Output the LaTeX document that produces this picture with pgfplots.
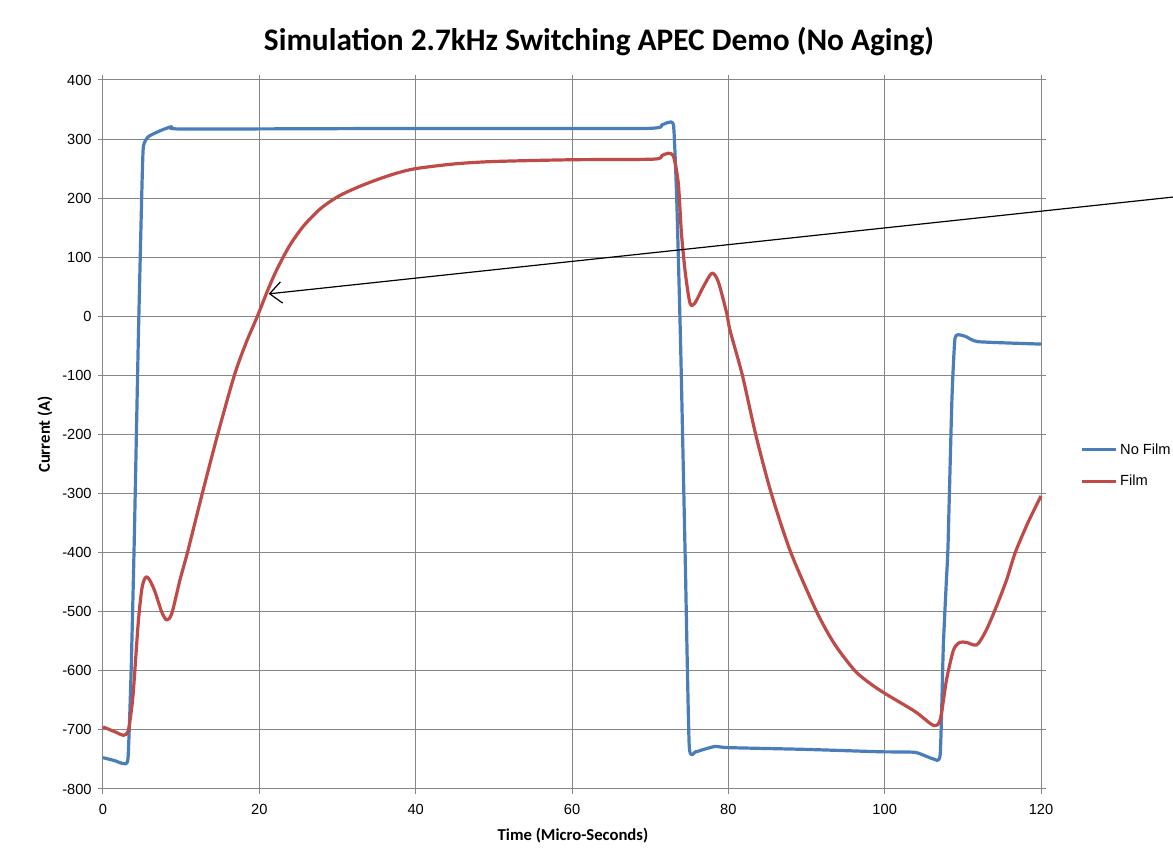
\documentclass[border=0pt]{standalone}
\usepackage{fontspec}
\setmainfont{Liberation Sans}
\newfontfamily\calibri{Carlito}
\usepackage{pgfplots}
\pgfplotsset{compat=1.18}
\usetikzlibrary{arrows.meta}
\definecolor{nofilm}{RGB}{74,126,187}
\definecolor{film}{RGB}{190,75,72}
\definecolor{gridc}{RGB}{134,134,134}
\begin{document}
\begin{tikzpicture}
\useasboundingbox (-77.25pt,-54.75pt) rectangle (802.5pt,591.75pt);
\begin{axis}[
  at={(0pt,0pt)}, anchor=south west,
  scale only axis, width=703.5pt, height=531.75pt,
  xmin=0, xmax=120, ymin=-800, ymax=400,
  xtick={0,20,...,120}, ytick={-800,-700,...,400},
  grid=major, major grid style={gridc, line width=0.75pt},
  axis line style={gridc, line width=0.75pt},
  tick align=outside, major tick length=4pt,
  tick style={gridc, line width=0.75pt},
  /pgf/number format/assume math mode=true,
  ticklabel style={font=\fontsize{11}{13}\selectfont, text=black},
  yticklabel style={xshift=-1pt},
  xticklabel style={yshift=-4pt},
  clip=false,
  legend style={at={(1.0416,0.4560)}, anchor=west, draw=none, fill=none,
    font=\fontsize{11}{13}\selectfont, row sep=10.5pt, inner sep=0pt},
  legend cell align=left,
  legend image code/.code={\draw[#1] (0pt,0pt) -- (25.5pt,0pt);},
]
\addplot[nofilm, line width=2.4pt, line join=round, smooth, tension=0.3] coordinates {
(0,-747) (1.5,-752) (2.6,-757) (3.2,-748) (3.6,-600) (4.0,-379) (4.5,-51)
(4.95,202) (5.16,287) (5.8,304) (7.3,314) (8.8,321) (10.1,317) (40,318) (69.5,318)
(71.5,324) (72.3,328) (73,322) (73.4,197) (73.9,-51) (74.5,-420) (75,-728)
(75.8,-737) (76.6,-734) (78.3,-728) (80,-730) (90,-733) (99.4,-737) (103.9,-738)
(106.2,-749) (107.1,-742) (107.5,-559) (107.9,-446) (108.1,-390) (108.6,-142)
(109,-37) (109.8,-32) (110.5,-35) (112,-43) (120,-47)
};
\addlegendentry{No Film}
\addplot[film, line width=2.4pt, line join=round, smooth, tension=0.45] coordinates {
(0,-695) (1.5,-703) (2.6,-709) (3.2,-703) (3.6,-670) (3.9,-632) (4.5,-520)
(4.95,-463) (5.3,-445) (5.6,-441) (6.0,-447) (6.65,-466) (7.5,-500) (8.15,-514)
(8.8,-503) (9.85,-446) (10.8,-400) (12.7,-300) (14.67,-200) (16.8,-100) (18.3,-45)
(19.75,0) (21.1,45) (22.2,78) (23.8,118) (25.6,152) (27.8,182) (30.1,203) (32.5,218)
(35,231) (37.5,242) (40,250) (45,258) (50,262) (60,265) (70.4,266) (71.5,272)
(72.3,276) (73,270) (73.6,225) (74,141) (74.5,73) (75.1,22) (75.7,22) (76.8,50)
(77.9,73) (78.7,59) (79.8,5) (80.2,-23) (81.8,-100) (83.5,-200) (85.5,-300)
(88.0,-400) (91.3,-500) (93.6,-555) (96.2,-600) (98.2,-622) (100,-638) (103.9,-669) (106.2,-692)
(107.1,-683) (107.9,-616) (108.8,-565) (109.6,-552) (110.5,-552) (111.8,-556)
(113.0,-531) (114.3,-491) (115.6,-446) (116.7,-400) (118.3,-350) (120,-304)
};
\addlegendentry{Film}
\draw[black, line width=0.9pt, -{Straight Barb[length=9pt, width=16pt]}]
  (axis cs:137,202) -- (axis cs:21.2,38);
\end{axis}
\node[font=\calibri\bfseries\fontsize{23.5}{28}\selectfont] at (372pt,560.25pt)
  {Simulation 2.7kHz Switching APEC Demo (No Aging)};
\node[font=\calibri\bfseries\fontsize{12.5}{15}\selectfont] at (352.5pt,-35.25pt)
  {Time (Micro-Seconds)};
\node[font=\calibri\bfseries\fontsize{12.5}{15}\selectfont, rotate=90] at (-43.5pt,265.9pt)
  {Current (A)};
\end{tikzpicture}
\end{document}
